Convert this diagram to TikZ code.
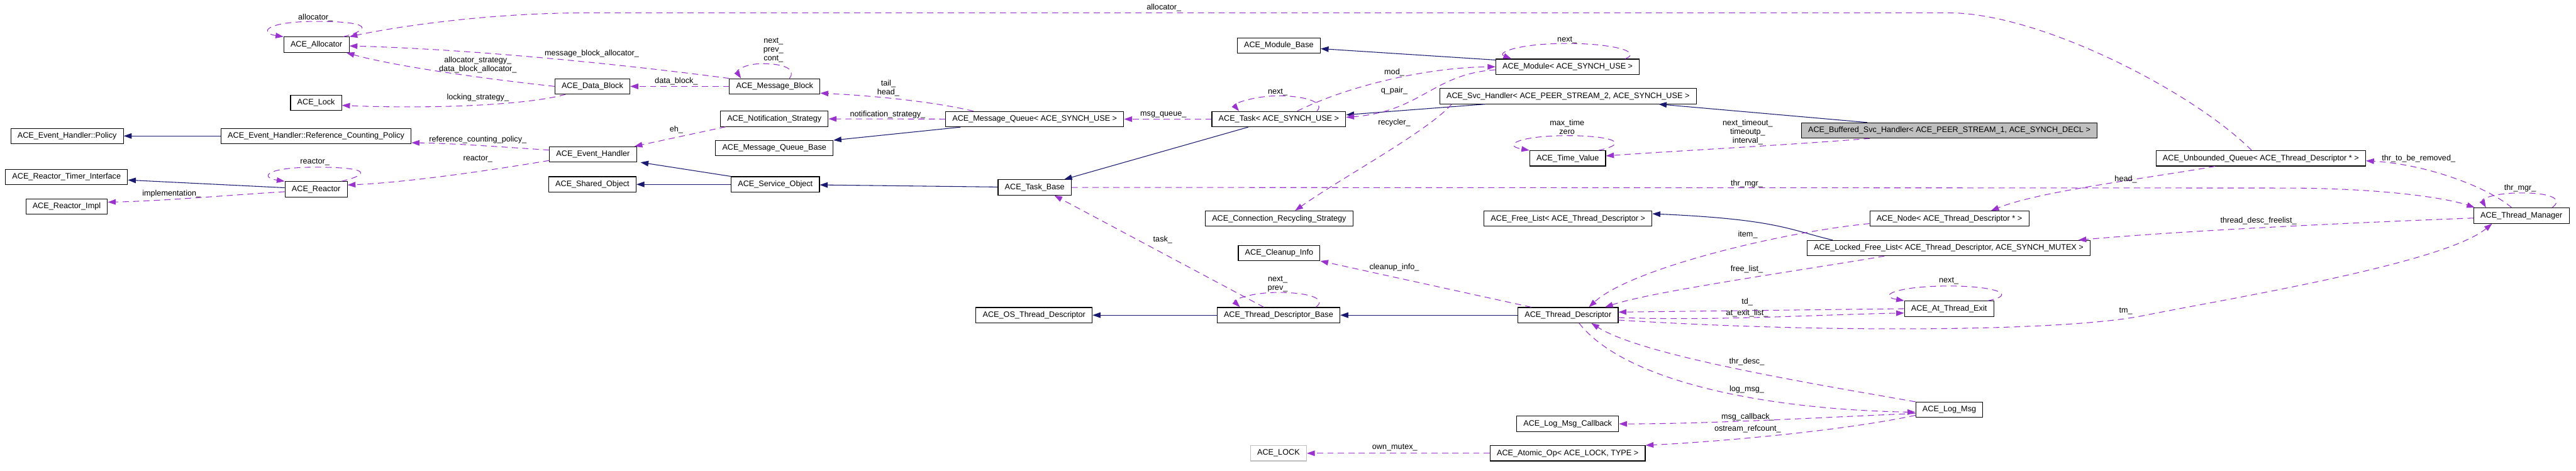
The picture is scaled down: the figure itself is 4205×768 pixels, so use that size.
\documentclass[tikz,border=0pt]{standalone}
\usepackage{fontspec}
\setmainfont{Liberation Sans}
\usetikzlibrary{arrows.meta,positioning}
\definecolor{inhblue}{HTML}{191970}
\definecolor{memorchid}{HTML}{9A32CD}
\definecolor{curgray}{HTML}{BFBFBF}
\tikzset{
  box/.style={draw, line width=1.1pt, inner xsep=11pt, inner ysep=0pt, minimum height=25pt, font=\fontsize{13}{15}\selectfont},
  cur/.style={box, fill=curgray}, tpl/.style={box, draw=curgray},
  lbl/.style={font=\fontsize{13}{14.5}\selectfont, align=center, inner sep=0pt},
  inh/.style={-{Triangle[length=13pt,width=9pt]}, line width=1.1pt, draw=inhblue},
  mem/.style={-{Triangle[length=13pt,width=9pt]}, line width=1.1pt, draw=memorchid, dash pattern=on 10pt off 7pt},
}
\begin{document}
\begin{tikzpicture}[x=1pt,y=-1pt]
  \fill[white] (0,0) rectangle (4205,768);
  \useasboundingbox (0,0) rectangle (4205,768);
  % classes
  \node[box] (alloc) at (516.6,73) {ACE\_Allocator};
  \node[box] (lock) at (516,168) {ACE\_Lock};
  \node[box] (ehpol) at (109.5,222) {ACE\_Event\_Handler::Policy};
  \node[box] (rcpol) at (516,222) {ACE\_Event\_Handler::Reference\_Counting\_Policy};
  \node[box] (rti) at (108.6,289) {ACE\_Reactor\_Timer\_Interface};
  \node[box] (reactor) at (516,309) {ACE\_Reactor};
  \node[box] (rimpl) at (108.8,337) {ACE\_Reactor\_Impl};
  \node[box] (dblock) at (967,141) {ACE\_Data\_Block};
  \node[box] (mblock) at (1264.6,141) {ACE\_Message\_Block};
  \node[box] (nstrat) at (1264,194) {ACE\_Notification\_Strategy};
  \node[box] (mqbase) at (1264,242) {ACE\_Message\_Queue\_Base};
  \node[box] (evh) at (968,252) {ACE\_Event\_Handler};
  \node[box] (shobj) at (967,301) {ACE\_Shared\_Object};
  \node[box] (svcobj) at (1265.6,301) {ACE\_Service\_Object};
  \node[box] (mqueue) at (1689,194.5) {ACE\_Message\_Queue< ACE\_SYNCH\_USE >};
  \node[box] (modb) at (2087.5,74.5) {ACE\_Module\_Base};
  \node[box] (task) at (2087.5,194.5) {ACE\_Task< ACE\_SYNCH\_USE >};
  \node[box] (taskb) at (1689,306) {ACE\_Task\_Base};
  \node[box] (crs) at (2088,357) {ACE\_Connection\_Recycling\_Strategy};
  \node[box] (cinfo) at (2088,413) {ACE\_Cleanup\_Info};
  \node[box] (osdesc) at (1688,514.5) {ACE\_OS\_Thread\_Descriptor};
  \node[box] (tdbase) at (2087,514.5) {ACE\_Thread\_Descriptor\_Base};
  \node[tpl] (lockt) at (2087,740) {ACE\_LOCK};
  \node[box] (module) at (2559,109) {ACE\_Module< ACE\_SYNCH\_USE >};
  \node[box] (svch) at (2559.6,157) {ACE\_Svc\_Handler< ACE\_PEER\_STREAM\_2, ACE\_SYNCH\_USE >};
  \node[box] (tval) at (2559,258.5) {ACE\_Time\_Value};
  \node[box] (freel) at (2559.6,357) {ACE\_Free\_List< ACE\_Thread\_Descriptor >};
  \node[box] (tdesc) at (2559.6,514.5) {ACE\_Thread\_Descriptor};
  \node[box] (lmcb) at (2559,692) {ACE\_Log\_Msg\_Callback};
  \node[box] (atomic) at (2559,740) {ACE\_Atomic\_Op< ACE\_LOCK, TYPE >};
  \node[cur] (bsh) at (3182,213) {ACE\_Buffered\_Svc\_Handler< ACE\_PEER\_STREAM\_1, ACE\_SYNCH\_DECL >};
  \node[box] (tdnode) at (3182,357) {ACE\_Node< ACE\_Thread\_Descriptor * >};
  \node[box] (lfl) at (3181,405) {ACE\_Locked\_Free\_List< ACE\_Thread\_Descriptor, ACE\_SYNCH\_MUTEX >};
  \node[box] (ate) at (3181.6,504) {ACE\_At\_Thread\_Exit};
  \node[box] (logmsg) at (3182,669) {ACE\_Log\_Msg};
  \node[box] (uqueue) at (3690.5,258.5) {ACE\_Unbounded\_Queue< ACE\_Thread\_Descriptor * >};
  \node[box] (tmgr) at (4116,352) {ACE\_Thread\_Manager};
  % inheritance
  \foreach \a/\b in {rcpol/ehpol,reactor/rti,svcobj/shobj,taskb/svcobj,tdesc/tdbase,tdbase/osdesc} \draw[inh] (\a)--(\b);
  \draw[inh] (svcobj.north west) -- ([xshift=6pt]evh.south east);
  \draw[inh] ([xshift=25pt]mqueue.south west) -- (mqbase.north east);
  \draw[inh] ([xshift=-50pt]task.south) -- ([xshift=48pt]taskb.north);
  \draw[inh] ([yshift=-2pt]module.north west) -- ([yshift=-5pt]modb.east);
  \draw[inh] ([xshift=75pt]svch.south west) -- ([yshift=7pt]task.east);
  \draw[inh] ([xshift=108pt]bsh.north west) -- ([xshift=-62pt]svch.south east);
  \draw[inh] ([xshift=42pt]lfl.north west) .. controls (2920,375) and (2900,358) .. ([yshift=8pt]freel.east);
  % members
  \draw[mem] ([xshift=-10pt]alloc.north east) .. controls +(50,-13) and +(85,0) .. ([yshift=25pt]alloc.north) .. controls +(-85,0) and +(-40,-6) .. (alloc.north west);
  \draw[mem] ([xshift=-15pt]uqueue.north) .. controls (3580,150) and (3330,21) .. (3181,21) -- (960,21) .. controls (790,21) and (640,45) .. (alloc.north east);
  \draw[mem] (mblock.north west) .. controls (1000,103) and (760,80) .. ([yshift=-2pt]alloc.east);
  \draw[mem] (dblock.west) .. controls (820,132) and (650,110) .. ([xshift=-5pt]alloc.south east);
  \draw[mem] ([xshift=18pt]dblock.south west) .. controls (860,172) and (700,178) .. ([yshift=-4pt]lock.east);
  \draw[mem] (mblock) -- (dblock);
  \draw[mem] ([xshift=24pt]mblock.north) .. controls +(12,-15) and +(35,0) .. ([xshift=-20pt,yshift=24pt]mblock.north) .. controls +(-30,0) and +(-8,-12) .. ([xshift=-55pt]mblock.north);
  \draw[mem] ([xshift=-100pt]mqueue.north) .. controls (1520,165) and (1420,156) .. ([yshift=2pt]mblock.south east);
  \draw[mem] (mqueue) -- (nstrat);
  \draw[mem] ([xshift=9pt]nstrat.south west) -- ([xshift=-4pt]evh.north east);
  \draw[mem] ([yshift=7pt]evh.west) .. controls (820,240) and (740,234) .. ([yshift=2pt]rcpol.south east);
  \draw[mem] ([yshift=-10pt]evh.west) .. controls (790,280) and (660,298) .. ([yshift=7pt]reactor.east);
  \draw[mem] ([xshift=-10pt]reactor.north east) .. controls +(50,-12) and +(85,0) .. ([yshift=23pt]reactor.north) .. controls +(-85,0) and +(-40,-6) .. (reactor.north west);
  \draw[mem] ([yshift=-4pt]reactor.west) .. controls (380,318) and (270,328) .. ([yshift=7pt]rimpl.east);
  \draw[mem] (task) -- (mqueue);
  \draw[mem] ([xshift=62pt]task.north) .. controls +(15,-15) and +(40,0) .. ([yshift=25pt]task.north) .. controls +(-40,0) and +(-10,-12) .. ([xshift=-65pt]task.north);
  \draw[mem] ([xshift=30pt]task.north) .. controls (2200,140) and (2330,110) .. (module.west);
  \draw[mem] ([yshift=-5pt]module.west) .. controls (2340,120) and (2320,182) .. ([yshift=3pt]task.east);
  \draw[mem] ([xshift=94pt]module.north) .. controls +(30,-12) and +(70,0) .. ([yshift=25pt]module.north) .. controls +(-80,0) and +(-25,-10) .. ([xshift=-92pt]module.north);
  \draw[mem] ([xshift=20pt]svch.south west) .. controls (2330,215) and (2190,290) .. ([xshift=26pt]crs.north);
  \draw[mem] ([xshift=-12pt]tval.north east) .. controls +(55,-12) and +(70,0) .. ([yshift=24pt]tval.north) .. controls +(-80,0) and +(-45,-8) .. (tval.north west);
  \draw[mem] ([xshift=112pt]bsh.south west) .. controls (2900,238) and (2740,246) .. ([yshift=4pt]tval.east);
  \draw[mem] (taskb.east) -- (3730,307) .. controls (3880,307) and (3990,322) .. ([xshift=2pt]tmgr.north west);
  \draw[mem] ([xshift=50pt]tmgr.north) .. controls +(20,-15) and +(45,0) .. ([yshift=24pt]tmgr.north) .. controls +(-45,0) and +(-8,-14) .. ([xshift=-58pt]tmgr.north);
  \draw[mem] ([xshift=-16pt]tmgr.north) .. controls (4060,305) and (3960,268) .. ([yshift=-4pt]uqueue.east);
  \draw[mem] ([xshift=-75pt]uqueue.south) .. controls (3500,292) and (3330,312) .. ([xshift=68pt]tdnode.north);
  \draw[mem] ([yshift=-4pt]tmgr.west) .. controls (3800,365) and (3550,378) .. ([xshift=-20pt]lfl.north east);
  \draw[mem] ([yshift=-8pt]tdnode.west) .. controls (2900,380) and (2660,440) .. ([xshift=34pt]tdesc.north);
  \draw[mem] ([xshift=-105pt]lfl.south) .. controls (2950,440) and (2700,475) .. ([xshift=-22pt]tdesc.north east);
  \draw[mem] (ate.west) -- ([yshift=5pt]tdesc.east);
  \draw[mem] ([yshift=-4pt]tdesc.east) .. controls (2800,524) and (2960,514) .. ([yshift=-7pt]ate.west);
  \draw[mem] ([xshift=-10pt]ate.north east) .. controls +(50,-10) and +(75,0) .. ([yshift=24pt]ate.north) .. controls +(-85,0) and +(-45,-8) .. (ate.north west);
  \draw[mem] ([yshift=-8pt]tdesc.east) .. controls (3000,545) and (3380,540) .. (3500,515) .. controls (3640,487) and (3990,430) .. ([xshift=-48pt]tmgr.south);
  \draw[mem] ([xshift=-60pt]tdesc.north) -- (cinfo.south east);
  \draw[mem] ([xshift=61pt]tdbase.north) .. controls +(20,-15) and +(45,0) .. ([yshift=24pt]tdbase.north) .. controls +(-45,0) and +(-12,-12) .. ([xshift=-63pt]tdbase.north);
  \draw[mem] ([xshift=-24pt]tdbase.north) -- ([xshift=32pt]taskb.south);
  \draw[mem] (logmsg.north west) .. controls (2950,625) and (2680,580) .. ([xshift=38pt]tdesc.south);
  \draw[mem] ([xshift=18pt]tdesc.south) .. controls (2650,620) and (2870,668) .. ([yshift=-4pt]logmsg.west);
  \draw[mem] ([yshift=-6pt]logmsg.west) .. controls (3000,680) and (2800,692) .. (lmcb.east);
  \draw[mem] ([yshift=-9pt]logmsg.west) .. controls (3000,705) and (2790,722) .. (atomic.north east);
  \draw[mem] (atomic) -- (lockt);
  % labels
  \node[lbl] (l-alloc) at (515,29) {allocator\_};
  \node[lbl] (l-qalloc) at (1900,13) {allocator\_};
  \node[lbl] (l-mballoc) at (966,88) {message\_block\_allocator\_};
  \node[lbl] (l-dballoc) at (780,106) {allocator\_strategy\_\\data\_block\_allocator\_};
  \node[lbl] (l-lockstr) at (780,159) {locking\_strategy\_};
  \node[lbl] (l-dblock) at (1104,133) {data\_block\_};
  \node[lbl] (l-mbnext) at (1262.5,82) {next\_\\prev\_\\cont\_};
  \node[lbl] (l-tail) at (1450,143.5) {tail\_\\head\_};
  \node[lbl] (l-nstrat) at (1449,187) {notification\_strategy\_};
  \node[lbl] (l-eh) at (1104,212) {eh\_};
  \node[lbl] (l-rcpol) at (780,228) {reference\_counting\_policy\_};
  \node[lbl] (l-evreact) at (780,259) {reactor\_};
  \node[lbl] (l-reactor) at (514,265) {reactor\_};
  \node[lbl] (l-impl) at (280,316) {implementation\_};
  \node[lbl] (l-msgq) at (1899,187) {msg\_queue\_};
  \node[lbl] (l-tnext) at (2085.6,151) {next\_};
  \node[lbl] (l-mod) at (2276,118) {mod\_};
  \node[lbl] (l-qpair) at (2276,148) {q\_pair\_};
  \node[lbl] (l-recyc) at (2276,200) {recycler\_};
  \node[lbl] (l-mnext) at (2558,65) {next\_};
  \node[lbl] (l-tval) at (2558,207.5) {max\_time\\zero};
  \node[lbl] (l-tout) at (2852.8,215.7) {next\_timeout\_\\timeoutp\_\\interval\_};
  \node[lbl] (l-thrmgr) at (2851.4,300) {thr\_mgr\_};
  \node[lbl] (l-tmloop) at (4113.7,307) {thr\_mgr\_};
  \node[lbl] (l-remove) at (3948,259) {thr\_to\_be\_removed\_};
  \node[lbl] (l-head) at (3470,293) {head\_};
  \node[lbl] (l-freelst) at (3686.6,360) {thread\_desc\_freelist\_};
  \node[lbl] (l-item) at (2853,383) {item\_};
  \node[lbl] (l-flist) at (2851.4,440) {free\_list\_};
  \node[lbl] (l-anext) at (3181,459) {next\_};
  \node[lbl] (l-td) at (2852,492.7) {td\_};
  \node[lbl] (l-atexit) at (2852,511.7) {at\_exit\_list\_};
  \node[lbl] (l-tm) at (3470,507.7) {tm\_};
  \node[lbl] (l-cinfo) at (2276,436.7) {cleanup\_info\_};
  \node[lbl] (l-dnext) at (2085.6,463.5) {next\_\\prev\_};
  \node[lbl] (l-task) at (1898,391) {task\_};
  \node[lbl] (l-thrdesc) at (2851.4,590.7) {thr\_desc\_};
  \node[lbl] (l-logmsg) at (2851.4,635.7) {log\_msg\_};
  \node[lbl] (l-mcb) at (2852.8,680.7) {msg\_callback\_};
  \node[lbl] (l-orc) at (2852.8,700.7) {ostream\_refcount\_};
  \node[lbl] (l-mutex) at (2276.8,731) {own\_mutex\_};
\end{tikzpicture}
\end{document}
